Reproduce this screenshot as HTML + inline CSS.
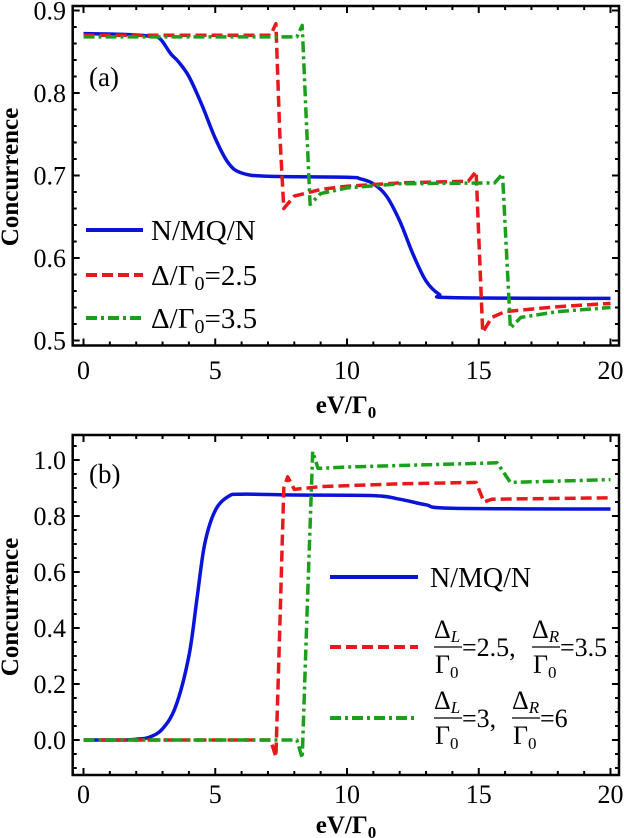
<!DOCTYPE html>
<html><head><meta charset="utf-8">
<style>
html,body{margin:0;padding:0;background:#fff;}
svg{display:block;font-family:"Liberation Serif","DejaVu Serif",serif;}
text{font-family:"Liberation Serif","DejaVu Serif",serif;fill:#000;}
</style></head>
<body>
<svg id="chart" width="624" height="838" viewBox="0 0 624 838" xmlns="http://www.w3.org/2000/svg" font-family="Liberation Serif, DejaVu Serif, serif"></svg>
<script>
// ---- Panel (a) data ----
const aBlueX=[0,1.5,2.5,2.9,3.3,3.6,4,4.5,5,5.5,6,7,10,10.5,11,11.5,12,12.5,13,13.5,14,20];
const aBlueY=[0.872,0.871,0.869,0.866,0.848,0.838,0.82,0.785,0.745,0.715,0.703,0.699,0.698,0.696,0.69,0.675,0.645,0.605,0.572,0.556,0.552,0.551];
const aRedX=[0,7.1,7.3,7.45,7.6,8,9,10,12,14.6,14.9,15.15,15.5,16,18,20];
const aRedY=[0.870,0.870,0.884,0.75,0.66,0.675,0.683,0.687,0.691,0.693,0.705,0.51,0.528,0.535,0.541,0.545];
const aGreenX=[0,8.1,8.3,8.45,8.6,9,10,12,15.6,15.9,16.2,16.6,18,20];
const aGreenY=[0.868,0.868,0.882,0.77,0.665,0.678,0.685,0.69,0.691,0.702,0.515,0.528,0.535,0.54];
const aXTicks=[0,5,10,15,20];
const aYTicks=[0.5,0.6,0.7,0.8,0.9];
const aYTickLabels=["0.5","0.6","0.7","0.8","0.9"];
// ---- Panel (b) data ----
const bBlueX=[0,1.5,2,2.5,3,3.5,4,4.3,4.6,5,5.5,6,8,11,12,13,14,20];
const bBlueY=[0,0,0.003,0.01,0.04,0.12,0.3,0.5,0.7,0.82,0.87,0.878,0.875,0.873,0.86,0.84,0.828,0.825];
const bRedX=[0,7.1,7.3,7.45,7.6,7.75,8,9,12,14.9,15.2,15.5,20];
const bRedY=[0,0,-0.06,0.4,0.9,0.94,0.895,0.905,0.915,0.92,0.85,0.86,0.865];
const bGreenX=[0,8.1,8.3,8.5,8.7,8.9,10,15.7,16.2,20];
const bGreenY=[0,0,-0.065,0.5,1.03,0.97,0.975,0.99,0.92,0.93];
const bXTicks=[0,5,10,15,20];
const bYTicks=[0,0.2,0.4,0.6,0.8,1.0];
const bYTickLabels=["0.0","0.2","0.4","0.6","0.8","1.0"];

const NS="http://www.w3.org/2000/svg";
const FF="Liberation Serif, DejaVu Serif, serif";
const svg=document.getElementById('chart');
function el(tag,attrs,parent){const e=document.createElementNS(NS,tag);for(const k in attrs)e.setAttribute(k,attrs[k]);if(tag==='text')e.setAttribute('font-family',FF);(parent||svg).appendChild(e);return e;}

function smoothPath(pts){
  let d='M'+pts[0][0].toFixed(1)+','+pts[0][1].toFixed(1);
  for(let i=0;i<pts.length-1;i++){
    const p0=pts[i-1]||pts[i],p1=pts[i],p2=pts[i+1],p3=pts[i+2]||p2;
    const c1=[p1[0]+(p2[0]-p0[0])/6,p1[1]+(p2[1]-p0[1])/6];
    const c2=[p2[0]-(p3[0]-p1[0])/6,p2[1]-(p3[1]-p1[1])/6];
    d+='C'+c1[0].toFixed(1)+','+c1[1].toFixed(1)+' '+c2[0].toFixed(1)+','+c2[1].toFixed(1)+' '+p2[0].toFixed(1)+','+p2[1].toFixed(1);
  }
  return d;
}

function panel(p){
  const g=el('g',{});
  
  
  const sx=v=>83.5+v*26.35;
  const sy=v=>p.y0px-(v-p.y0)*p.pxPerUnit;
  const L=72.7,R=619,T=p.top,B=p.bottom;
  const series=[
    {xs:p.blueX,ys:p.blueY,color:'#0a14d8',dash:'',smooth:true,name:'series-n-mq-n'},
    {xs:p.redX,ys:p.redY,color:'#e8191c',dash:'11,5',smooth:false,name:'series-red-dashed'},
    {xs:p.greenX,ys:p.greenY,color:'#1aa01a',dash:'11,4,3,4',smooth:false,name:'series-green-dashdot'}
  ];
  const clip=el('clipPath',{id:'clip'+p.name},g);
  el('rect',{x:L,y:T,width:R-L,height:B-T},clip);
  series.forEach(s=>{
    const pts=s.xs.map((x,i)=>[sx(x),sy(s.ys[i])]);
    let d;
    if(s.smooth)d=smoothPath(pts);
    else{d='';pts.forEach((q,i)=>{d+=(i?'L':'M')+q[0].toFixed(1)+','+q[1].toFixed(1);});}
    const path=el('path',{d:d,fill:'none',stroke:s.color,'stroke-width':3.5,'stroke-linejoin':'round','clip-path':'url(#clip'+p.name+')'},g);
    if(s.dash)path.setAttribute('stroke-dasharray',s.dash);
    
    
  });
  const frame=el('rect',{x:L,y:T,width:R-L,height:B-T,fill:'none',stroke:'#000','stroke-width':2.5},g);
  
  
  for(let v=0;v<=20;v++){
    const x=sx(v);
    const len=(v%5===0)?7:4;
    el('line',{x1:x,y1:B,x2:x,y2:B-len,stroke:'#000','stroke-width':2},g);
    el('line',{x1:x,y1:T,x2:x,y2:T+len,stroke:'#000','stroke-width':2},g);
  }
  p.xTicks.forEach(v=>{
    const t=el('text',{x:sx(v),y:p.xLabelY,'font-size':26,'text-anchor':'middle'},g);
    t.textContent=String(v);
    
    
  });
  for(let v=p.minorStart;v<=p.yMax+1e-9;v+=p.minorStep){
    const y=sy(v); if(y<T+1||y>B-1)continue;
    el('line',{x1:L,y1:y,x2:L+4,y2:y,stroke:'#000','stroke-width':2},g);
    el('line',{x1:R,y1:y,x2:R-4,y2:y,stroke:'#000','stroke-width':2},g);
  }
  p.yTicks.forEach((v,i)=>{
    const y=sy(v);
    el('line',{x1:L,y1:y,x2:L+7,y2:y,stroke:'#000','stroke-width':2},g);
    el('line',{x1:R,y1:y,x2:R-7,y2:y,stroke:'#000','stroke-width':2},g);
    const t=el('text',{x:66,y:y+9,'font-size':26,'text-anchor':'end'},g);
    t.textContent=p.yLabels[i];
    
    
  });
  const xt=el('text',{x:346,y:p.xTitleY,'font-size':25,'font-weight':'bold','text-anchor':'middle'},g);
  xt.innerHTML='eV/Γ<tspan font-size="17" dy="5">0</tspan>';
  
  
  const yt=el('text',{x:0,y:0,'font-size':25,'font-weight':'bold','text-anchor':'middle',transform:'translate(18,'+p.yTitleY+') rotate(-90)'},g);
  yt.textContent='Concurrence';
  
  
  const pl=el('text',{x:89,y:p.panelLabelY,'font-size':27},g);
  pl.textContent=p.label;
  
  
  return g;
}

panel({name:'panel-a',label:'(a)',blueX:aBlueX,blueY:aBlueY,redX:aRedX,redY:aRedY,greenX:aGreenX,greenY:aGreenY,
  xTicks:aXTicks,yTicks:aYTicks,yLabels:aYTickLabels,y0:0.5,y0px:340.5,pxPerUnit:825,top:6,bottom:345.5,yMax:0.9,minorStart:0.5,minorStep:0.02,
  xLabelY:379,xTitleY:413,yTitleY:177,panelLabelY:86});
panel({name:'panel-b',label:'(b)',blueX:bBlueX,blueY:bBlueY,redX:bRedX,redY:bRedY,greenX:bGreenX,greenY:bGreenY,
  xTicks:bXTicks,yTicks:bYTicks,yLabels:bYTickLabels,y0:0,y0px:740,pxPerUnit:280,top:435,bottom:775,yMax:1.05,minorStart:-0.1,minorStep:0.05,
  xLabelY:803,xTitleY:833,yTitleY:607,panelLabelY:483});

function legLine(g,x1,x2,y,color,dash,name){
  const l=el('line',{x1:x1,y1:y,x2:x2,y2:y,stroke:color,'stroke-width':4},g);
  if(dash)l.setAttribute('stroke-dasharray',dash);
  
  
}
const la=el('g',{});


legLine(la,86,143,230,'#0a14d8','','legend-entry-n-mq-n');
legLine(la,86,143,275,'#e8191c','11,5','legend-entry-delta-2-5');
legLine(la,86,143,318,'#1aa01a','11,4,3,4','legend-entry-delta-3-5');
let t=el('text',{x:151,y:240,'font-size':29},la);t.textContent='N/MQ/N';
t=el('text',{x:151,y:285,'font-size':29},la);t.innerHTML='Δ/Γ<tspan font-size="20" dy="5">0</tspan><tspan dy="-5">=2.5</tspan>';
t=el('text',{x:151,y:328,'font-size':29},la);t.innerHTML='Δ/Γ<tspan font-size="20" dy="5">0</tspan><tspan dy="-5">=3.5</tspan>';

const lb=el('g',{});


legLine(lb,330,418,577,'#0a14d8','','legend-entry-n-mq-n-b');
legLine(lb,330,418,647,'#e8191c','11,5','legend-entry-red-b');
legLine(lb,330,418,718,'#1aa01a','11,4,3,4','legend-entry-green-b');
t=el('text',{x:430,y:587,'font-size':28},lb);t.textContent='N/MQ/N';
function frac(g,x,y,sub,val){
  let n=el('text',{x:x,y:y-9,'font-size':26},g);n.innerHTML='Δ<tspan font-size="17" font-style="italic" dy="4">'+sub+'</tspan>';
  el('line',{x1:x,y1:y,x2:x+28,y2:y,stroke:'#000','stroke-width':1.3},g);
  let d=el('text',{x:x+1,y:y+26,'font-size':26},g);d.innerHTML='Γ<tspan font-size="17" dy="5">0</tspan>';
  let v=el('text',{x:x+28,y:y+9,'font-size':26},g);v.textContent=val;
}
frac(lb,434,647,'L','=2.5,');
frac(lb,532,647,'R','=3.5');
frac(lb,434,718,'L','=3,');
frac(lb,512,718,'R','=6');
</script>
</body></html>
